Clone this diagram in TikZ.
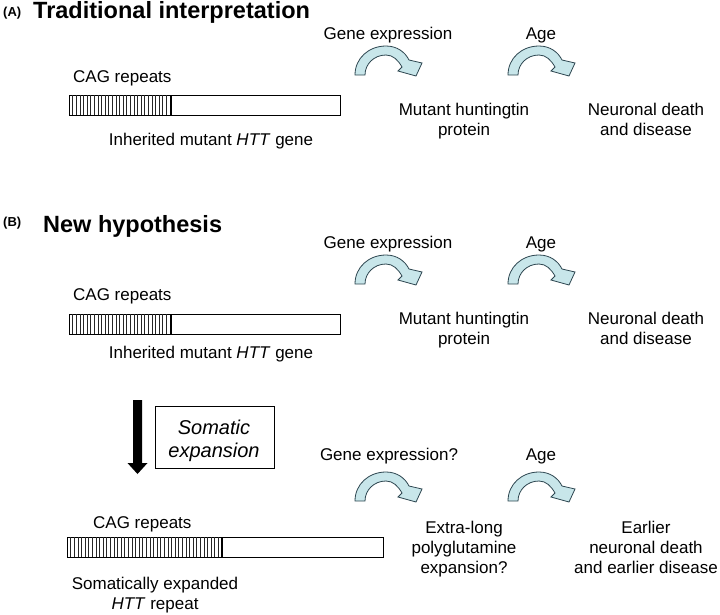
\documentclass[tikz,border=0pt]{standalone}
\usepackage{fontspec}
\setmainfont{Liberation Sans}
\definecolor{arrowfill}{RGB}{200,230,234}
\definecolor{arrowline}{RGB}{45,70,80}
\tikzset{
  lbl/.style={anchor=base, inner sep=0pt, font=\fontsize{17}{20}\selectfont},
  lblw/.style={anchor=base west, inner sep=0pt, font=\fontsize{17}{20}\selectfont},
  titletxt/.style={anchor=base west, inner sep=0pt, font=\fontsize{23.5}{28}\selectfont\bfseries},
  tagtxt/.style={anchor=base west, inner sep=0pt, font=\fontsize{13}{15}\selectfont\bfseries},
  genebar/.style={draw=black, line width=0.9pt, fill=white},
  hatchline/.style={line width=0.5pt, draw=black!85},
  curvearrow/.style={fill=arrowfill, draw=arrowline, line width=0.8pt, line join=miter},
  pics/bend/.style={code={
    \path[curvearrow] (0,0) .. controls (0,-17) and (14,-29) .. (31,-29)
      .. controls (42,-29) and (50,-23) .. (54,-15) -- (67,-12) -- (61,1) -- (43,-4) -- (47,-8)
      .. controls (43,-15) and (38,-20) .. (31,-20)
      .. controls (19,-20) and (10,-11) .. (10,0) -- cycle;
  }}
}
\begin{document}
\begin{tikzpicture}[x=1pt,y=-1pt]
\useasboundingbox (0,0) rectangle (720,614);

% ---------- Panel A ----------
\node[tagtxt] (tagA) at (3,16) {(A)};
\node[titletxt] (titleA) at (33,18) {Traditional interpretation};
\node[lblw] (cagA) at (73,82) {CAG repeats};
\draw[genebar] (69,95) rectangle (340,115);
\foreach \x in {72.6,76.2,...,169} \draw[hatchline] (\x,95) -- (\x,115);
\draw[line width=1.2pt] (171,95) -- (171,115);
\node[lbl] (inhA) at (211,145) {Inherited mutant \textit{HTT} gene};
\node[lbl] (geA) at (388,39) {Gene expression};
\node[lbl] (ageA) at (541,39) {Age};
\pic at (355,75) {bend};
\pic at (508,75) {bend};
\node[lbl] (protA) at (464,115) {\begin{tabular}[t]{@{}c@{}}Mutant huntingtin\\protein\end{tabular}};
\node[lbl] (deathA) at (646,115) {\begin{tabular}[t]{@{}c@{}}Neuronal death\\and disease\end{tabular}};

% ---------- Panel B ----------
\node[tagtxt] (tagB) at (3,226) {(B)};
\node[titletxt] (titleB) at (43,232) {New hypothesis};
\node[lblw] (cagB) at (73,300) {CAG repeats};
\draw[genebar] (69,314) rectangle (340,334);
\foreach \x in {72.6,76.2,...,169} \draw[hatchline] (\x,314) -- (\x,334);
\draw[line width=1.2pt] (171,314) -- (171,334);
\node[lbl] (inhB) at (211,358) {Inherited mutant \textit{HTT} gene};
\node[lbl] (geB) at (388,248) {Gene expression};
\node[lbl] (ageB) at (541,248) {Age};
\pic at (355,284) {bend};
\pic at (508,284) {bend};
\node[lbl] (protB) at (464,324) {\begin{tabular}[t]{@{}c@{}}Mutant huntingtin\\protein\end{tabular}};
\node[lbl] (deathB) at (646,324) {\begin{tabular}[t]{@{}c@{}}Neuronal death\\and disease\end{tabular}};

% somatic expansion
\fill (133,400) -- (142,400) -- (142,463) -- (147.5,463) -- (137.5,474) -- (127.5,463) -- (133,463) -- cycle;
\node[draw, line width=0.9pt, minimum width=119pt, minimum height=62pt, inner sep=0pt] (somatic) at (214.5,437) {};
\node[anchor=base, inner sep=0pt, font=\fontsize{20}{23}\selectfont\itshape] (somtext) at (214,434)
  {\begin{tabular}[t]{@{}c@{}}Somatic\\expansion\end{tabular}};

% expanded gene
\node[lblw] (cagC) at (93,528) {CAG repeats};
\draw[genebar] (67,537) rectangle (383,557);
\foreach \x in {70.6,74.2,...,220} \draw[hatchline] (\x,537) -- (\x,557);
\draw[line width=1.2pt] (222,537) -- (222,557);
\node[lbl] (expC) at (155,589) {\begin{tabular}[t]{@{}c@{}}Somatically expanded\\\textit{HTT} repeat\end{tabular}};
\node[lbl] (geC) at (389,460) {Gene expression?};
\node[lbl] (ageC) at (541,460) {Age};
\pic at (355,501) {bend};
\pic at (508,501) {bend};
\node[lbl] (extraC) at (464,533) {\begin{tabular}[t]{@{}c@{}}Extra-long\\polyglutamine\\expansion?\end{tabular}};
\node[lbl] (earlierC) at (646,533) {\begin{tabular}[t]{@{}c@{}}Earlier\\neuronal death\\and earlier disease\end{tabular}};
\end{tikzpicture}
\end{document}
